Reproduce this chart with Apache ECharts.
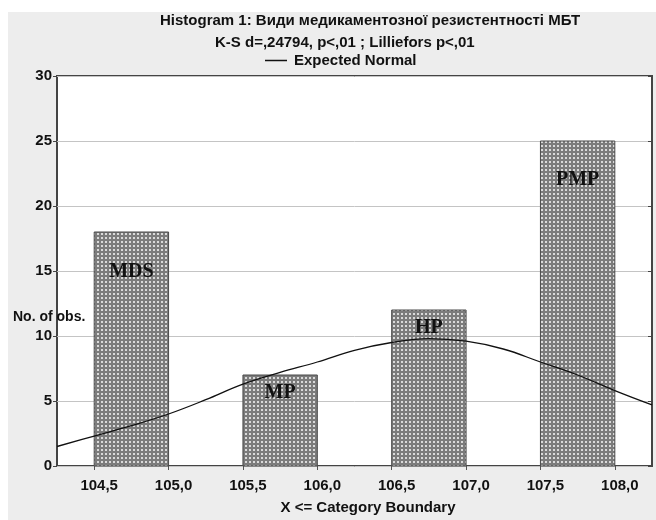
<!DOCTYPE html>
<html>
<head>
<meta charset="utf-8">
<script src="https://cdn.jsdelivr.net/npm/echarts@6/dist/echarts.min.js"></script>
<style>
html,body{margin:0;padding:0;background:#ffffff;}
#chart{width:656px;height:520px;}
</style>
</head>
<body>
<div id="chart"></div>
<script>
// ---- data ----
const categories = ['MDS', 'MP', 'HP', 'PMP'];
const binLower = [104.5, 105.5, 106.5, 107.5];
const binUpper = [105.0, 106.0, 107.0, 108.0];
const counts = [18, 7, 12, 25];
const normalX = [104.25, 104.5, 104.75, 105.0, 105.25, 105.5, 105.75, 106.0, 106.25, 106.5, 106.75, 107.0, 107.25, 107.5, 107.75, 108.0, 108.25];
const normalY = [1.5, 2.3, 3.1, 4.0, 5.1, 6.3, 7.2, 8.0, 8.9, 9.5, 9.8, 9.6, 9.0, 8.0, 7.0, 5.8, 4.7];
const xTickValues = [104.5, 105.0, 105.5, 106.0, 106.5, 107.0, 107.5, 108.0];
const titleLine1 = 'Histogram 1: Види медикаментозної резистентності МБТ';
const titleLine2 = 'K-S d=,24794, p<,01 ; Lilliefors p<,01';
const legendName = 'Expected Normal';
const xName = 'X <= Category Boundary';
const yName = 'No. of obs.';

// ---- style (not data) ----
const labelDy = [40, 18, 18, 39];
const FONT = '"Liberation Sans", Arial, sans-serif';

function makePattern() {
  const c = document.createElement('canvas');
  c.width = 4; c.height = 4;
  const g = c.getContext('2d');
  g.fillStyle = '#7c7c7c';
  g.fillRect(0, 0, 4, 4);
  g.fillStyle = '#dadada';
  g.fillRect(1, 1, 2, 2);
  return c;
}
const patternCanvas = makePattern();

const barData = categories.map((c, i) => [binLower[i], binUpper[i], counts[i], i]);
const lineData = normalX.map((x, i) => [x, normalY[i]]);

const chart = echarts.init(document.getElementById('chart'), null, {renderer: 'canvas'});
chart.setOption({
  animation: false,
  backgroundColor: '#ffffff',
  graphic: [
    {type: 'rect', z: -10, silent: true, shape: {x: 8, y: 12, width: 660, height: 520}, style: {fill: '#ededed'}},
    {type: 'text', left: 13, top: 310, z: 50, style: {text: yName, font: 'bold 14px ' + FONT, fill: '#111'}}
  ],
  title: [
    {text: titleLine1, left: 160, top: 13, padding: 0, textStyle: {fontSize: 15, fontWeight: 'bold', color: '#111', fontFamily: FONT}},
    {text: titleLine2, left: 215, top: 35, padding: 0, textStyle: {fontSize: 15, fontWeight: 'bold', color: '#111', fontFamily: FONT}}
  ],
  legend: {
    data: [{name: legendName, icon: 'rect'}], left: 265, top: 53, padding: 0, itemWidth: 22, itemHeight: 1.5, itemGap: 8,
    textStyle: {fontSize: 15, fontWeight: 'bold', color: '#111', fontFamily: FONT, padding: [0, 0, 0, 2]}
  },
  grid: {left: 57, right: 4, top: 76, bottom: 53, show: true, backgroundColor: '#ffffff', borderColor: '#444', borderWidth: 2},
  xAxis: [
    {
      type: 'value', min: 104.25, max: 108.25, position: 'bottom',
      axisLine: {show: false}, axisTick: {show: false}, splitLine: {show: false},
      axisLabel: {customValues: xTickValues, formatter: v => v.toFixed(1).replace('.', ','), fontSize: 15, fontWeight: 'bold', color: '#111', fontFamily: FONT, margin: 12, padding: [0, 0, 0, 10]},
      name: xName, nameLocation: 'middle', nameGap: 34,
      nameTextStyle: {fontSize: 15, fontWeight: 'bold', color: '#111', fontFamily: FONT, padding: [0, 0, 0, 27]}
    },
    {
      type: 'value', min: 104.25, max: 108.25, position: 'top',
      axisLine: {show: false}, splitLine: {show: false}, axisLabel: {show: false},
      axisTick: {show: true, inside: true, length: 4, customValues: xTickValues, lineStyle: {color: '#555'}}
    }
  ],
  yAxis: [
    {
      type: 'value', min: 0, max: 30, interval: 5, position: 'left',
      axisLine: {show: false},
      axisTick: {show: true, length: 4, lineStyle: {color: '#444'}},
      axisLabel: {fontSize: 15, fontWeight: 'bold', color: '#111', fontFamily: FONT, margin: 5},
      splitLine: {show: true, lineStyle: {color: '#c4c4c4', width: 1}}
    },
    {
      type: 'value', min: 0, max: 30, interval: 5, position: 'right',
      axisLine: {show: false}, splitLine: {show: false}, axisLabel: {show: false},
      axisTick: {show: true, inside: true, length: 4, lineStyle: {color: '#444'}}
    }
  ],
  series: [
    {
      type: 'custom', name: 'bars', xAxisIndex: 0, yAxisIndex: 0, z: 2,
      data: barData,
      encode: {x: [0, 1], y: 2},
      renderItem: function (params, api) {
        const lo = api.value(0), hi = api.value(1), v = api.value(2), idx = api.value(3);
        const p1 = api.coord([lo, v]);
        const p2 = api.coord([hi, 0]);
        return {
          type: 'group',
          children: [
            {type: 'rect', shape: {x: p1[0], y: p1[1], width: p2[0] - p1[0], height: p2[1] - p1[1]},
             style: {fill: {image: patternCanvas, repeat: 'repeat'}, stroke: '#4a4a4a', lineWidth: 1}},
            {type: 'text', x: (p1[0] + p2[0]) / 2, y: p1[1] + labelDy[idx],
             style: {text: categories[idx], font: 'bold 20px "Liberation Serif", "Times New Roman", serif', fill: '#111', align: 'center', verticalAlign: 'middle'}}
          ]
        };
      }
    },
    {
      type: 'line', name: legendName, xAxisIndex: 0, yAxisIndex: 0, z: 5,
      data: lineData, smooth: 0.4, symbol: 'none', showSymbol: false,
      lineStyle: {color: '#111', width: 1.3}, itemStyle: {color: '#111'}
    }
  ]
});
</script>
</body>
</html>
